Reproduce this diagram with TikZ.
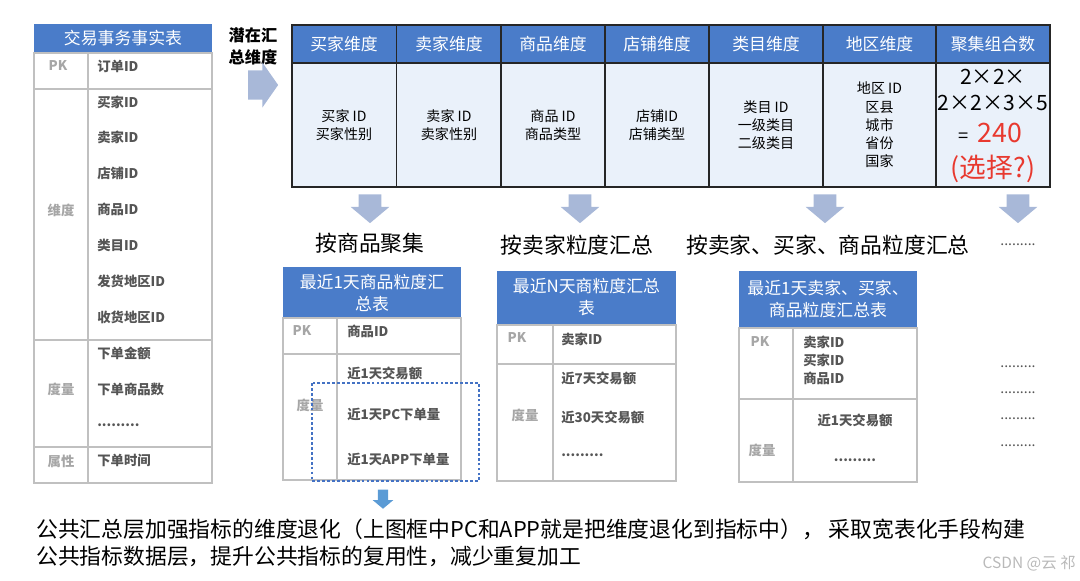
\documentclass[tikz,border=0pt]{standalone}
\usepackage{fontspec}
\setmainfont{Noto Sans CJK SC}
\usepackage{tikz}
\usetikzlibrary{shapes.arrows, positioning}

\definecolor{hdrblue}{HTML}{4A7CC9}
\definecolor{bodyblue}{HTML}{EAF1FA}
\definecolor{arrowgray}{HTML}{A8B8D8}
\definecolor{gridgray}{HTML}{C0C0C0}
\definecolor{itemgray}{HTML}{555555}
\definecolor{keygray}{HTML}{A6A6A6}
\definecolor{hotred}{HTML}{E8392F}
\definecolor{markblue}{HTML}{4472C4}
\definecolor{tipblue}{HTML}{5B9BD5}
\newcommand{\dotrow}{.........}

\begin{document}
\begin{tikzpicture}[
    x=0.025cm, y=-0.025cm,
    hdrtext/.style={text=white, font=\fontsize{12}{15.5}\selectfont, align=center, inner sep=0pt},
    grid/.style={draw=gridgray, line width=0.9pt},
    bigrid/.style={draw=black!85, line width=0.8pt},
    item/.style={anchor=west, text=itemgray, font=\fontsize{9.5}{12.8}\selectfont\bfseries,
                 inner sep=0pt, align=left},
    key/.style={text=keygray, font=\fontsize{9.5}{12}\selectfont\bfseries, inner sep=0pt},
    cell/.style={align=center, font=\fontsize{10}{13}\selectfont, inner sep=0pt},
    caption/.style={font=\fontsize{15.5}{19}\selectfont, inner sep=0pt},
    downarrow/.style={single arrow, fill=arrowgray, draw=none, rotate=-90,
                      single arrow tip angle=100, single arrow head extend=0.2cm,
                      inner xsep=0.05cm, inner ysep=0.275cm, minimum height=0.72cm},
    rightarrow/.style={single arrow, fill=arrowgray, draw=none,
                       single arrow tip angle=110, single arrow head extend=0.2cm,
                       inner xsep=0.05cm, inner ysep=0.36cm, minimum height=0.75cm},
    tiparrow/.style={single arrow, fill=tipblue, draw=none, rotate=-90,
                     single arrow tip angle=100, single arrow head extend=0.13cm,
                     inner xsep=0.03cm, inner ysep=0.12cm, minimum height=0.48cm}
]
    \useasboundingbox (0,0) rectangle (1080,580);

    % Fact table
    \fill[hdrblue] (34,24) rectangle (212,53);
    \node[hdrtext] (facthead) at (123,38.5) {交易事务事实表};
    \draw[grid] (34,53) rectangle (212,483);
    \draw[grid] (34,89) -- (212,89) (34,340) -- (212,340) (34,447) -- (212,447) (88,53) -- (88,483);
    \foreach \t [count=\i from 0] in {订单ID,买家ID,卖家ID,店铺ID,商品ID,类目ID,发货地区ID,收货地区ID,下单金额,下单商品数,\dotrow,下单时间}
        \node[item] (fact\i) at (97,{66+35.9*\i}) {\t};
    \node[key] (factpk)   at (58,66)  {PK};
    \node[key] (factdim)  at (61,210) {维度};
    \node[key] (factmeas) at (61,389) {度量};
    \node[key] (factattr) at (61,461) {属性};

    % Potential dimensions
    \node[align=center, font=\fontsize{11.5}{16}\selectfont\bfseries, inner sep=0pt] (potential) at (253,46.5) {潜在汇\\总维度};
    \node[rightarrow] (toright) at (258,85) {};

    % Dimension table
    \fill[bodyblue] (292,63) rectangle (1050,187);
    \fill[hdrblue] (292,25) rectangle (1050,63);
    \draw[bigrid] (292,25) rectangle (1050,187) (292,63) -- (1050,63);
    \foreach \cx in {396.5,501,605,709,823,936}
        \draw[bigrid] (\cx,25) -- (\cx,187);
    \foreach \t/\cx [count=\i] in {买家维度/344,卖家维度/449,商品维度/553,店铺维度/657,类目维度/766,地区维度/879.5,聚集组合数/993}
        \node[hdrtext] (dimh\i) at (\cx,44) {\t};
    \node[cell] (dimb1) at (344,125)   {买家 ID\\买家性别};
    \node[cell] (dimb2) at (449,125)   {卖家 ID\\卖家性别};
    \node[cell] (dimb3) at (553,125)   {商品 ID\\商品类型};
    \node[cell] (dimb4) at (657,125)   {店铺ID\\店铺类型};
    \node[cell, font=\fontsize{10}{12.8}\selectfont] (dimb5) at (766,125) {类目 ID\\一级类目\\二级类目};
    \node[cell, font=\fontsize{10}{12.98}\selectfont] (dimb6) at (879.5,125) {地区 ID\\区县\\城市\\省份\\国家};
    \node[cell, font=\fontsize{15}{18}\selectfont] (combo1) at (993,77)  {2×2×};
    \node[cell, font=\fontsize{15}{18}\selectfont] (combo2) at (993,103) {2×2×3×5};
    \node[cell, font=\fontsize{13}{18}\selectfont] (combo3) at (990,133) {=\enspace\textcolor{hotred}{\fontsize{19}{20}\selectfont 240}};
    \node[cell, font=\fontsize{19}{22}\selectfont, text=hotred] (combo4) at (993,169) {(选择?)};

    % Down arrows and captions
    \node[downarrow] (down1) at (370,204)  {};
    \node[downarrow] (down2) at (580,204)  {};
    \node[downarrow] (down3) at (825,204)  {};
    \node[downarrow] (down4) at (1018,204) {};
    \node[caption] (cap1) at (370,243)  {按商品聚集};
    \node[caption] (cap2) at (577,245)  {按卖家粒度汇总};
    \node[caption] (cap3) at (828,245)  {按卖家、买家、商品粒度汇总};
    \node[item, anchor=center, font=\fontsize{10}{12}\selectfont] (cap4) at (1018,245) {\dotrow};

    % Goods table
    \fill[hdrblue] (283,267) rectangle (461,318);
    \node[hdrtext] (goodhead) at (372,293) {最近1天商品粒度汇\\总表};
    \draw[grid] (283,318) rectangle (461,480) (283,354) -- (461,354) (337,318) -- (337,480);
    \node[key] (goodpk)   at (302,331) {PK};
    \node[key] (goodmeas) at (310,405) {度量};
    \node[item] (good1) at (347,331) {商品ID};
    \node[item] (good2) at (347,373) {近1天交易额};
    \node[item] (good3) at (347,414) {近1天PC下单量};
    \node[item] (good4) at (347,459) {近1天APP下单量};
    \draw[markblue, line width=2pt, dash pattern=on 2pt off 1.5pt] (312,383) rectangle (479,481);
    \node[tiparrow] (tonote) at (383,497) {};

    % Seller table
    \fill[hdrblue] (497,271) rectangle (676,325);
    \node[hdrtext] (sellhead) at (586.5,297) {最近N天商粒度汇总\\表};
    \draw[grid] (497,325) rectangle (676,481) (497,364) -- (676,364) (553,325) -- (553,481);
    \node[key] (sellpk)   at (517,338) {PK};
    \node[key] (sellmeas) at (525,415) {度量};
    \node[item] (sell1) at (561,339) {卖家ID};
    \node[item] (sell2) at (561,378) {近7天交易额};
    \node[item] (sell3) at (561,417) {近30天交易额};
    \node[item] (sell4) at (561,455) {\dotrow};

    % Mixed table
    \fill[hdrblue] (739,271) rectangle (917,328);
    \node[hdrtext] (mixhead) at (828,299) {最近1天卖家、买家、\\商品粒度汇总表};
    \draw[grid] (739,328) rectangle (917,482) (739,399) -- (917,399) (793,328) -- (793,482);
    \node[key] (mixpk)   at (760,342) {PK};
    \node[key] (mixmeas) at (762,450) {度量};
    \node[item] (mix1) at (803,360) {卖家ID\\买家ID\\商品ID};
    \node[item, anchor=center] (mix2) at (855,420) {近1天交易额};
    \node[item, anchor=center] (mix3) at (855,460) {\dotrow};

    % More aggregates
    \foreach \yy [count=\i] in {367,393,419,446}
        \node[item, anchor=center, font=\fontsize{10}{12}\selectfont] (more\i) at (1018,\yy) {\dotrow};

    % Note
    \node[anchor=west, align=left, font=\fontsize{15.5}{19.2}\selectfont, inner sep=0pt] (note) at (36,542.5)
        {公共汇总层加强指标的维度退化（上图框中PC和APP就是把维度退化到指标中）， 采取宽表化手段构建\\公共指标数据层，提升公共指标的复用性，减少重复加工};
    \node[anchor=east, text=gray!55, font=\fontsize{11}{13}\selectfont, inner sep=0pt] (mark) at (1076,563) {CSDN @云 祁};

\end{tikzpicture}
\end{document}
